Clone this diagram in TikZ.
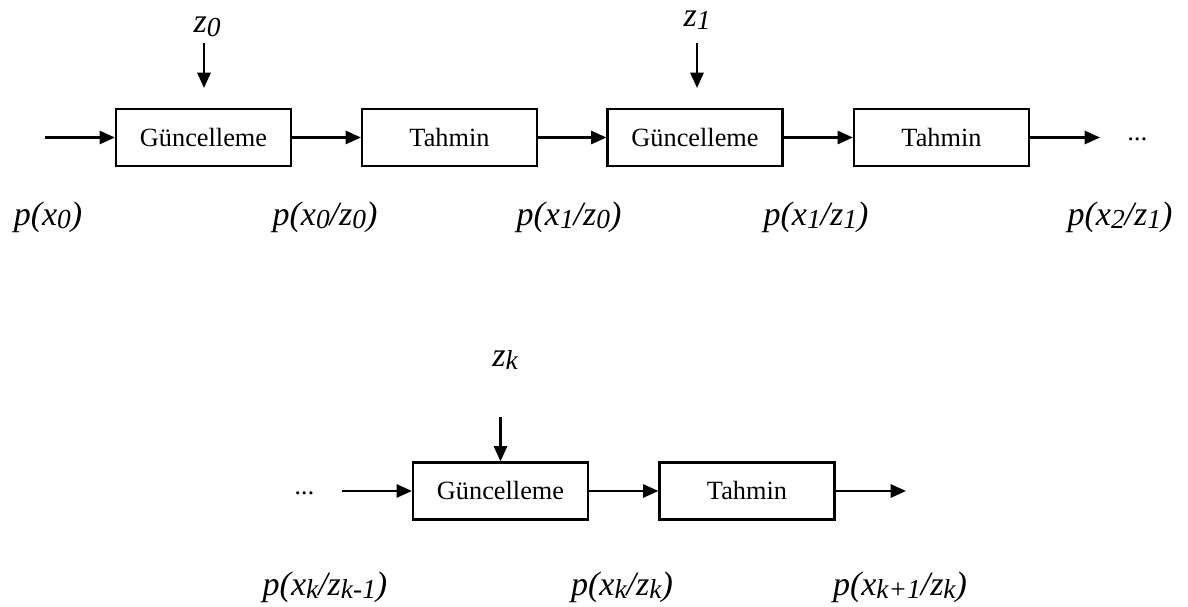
\documentclass[tikz,border=0pt]{standalone}
\usepackage{fontspec}
\setmainfont{Liberation Serif}
\usetikzlibrary{arrows.meta}

% lowered, slightly smaller index used in the density labels
\newcommand\lsub[1]{\raisebox{-0.22ex}{\fontsize{12.5}{13}\selectfont #1}}
\newcommand\lab[1]{\fontsize{15.5}{17}\selectfont\itshape #1}

\begin{document}
\begin{tikzpicture}[x=0.456pt, y=-0.456pt,
  blockbox/.style={draw, line width=1pt, minimum width=79.8pt, minimum height=26pt,
                   inner sep=0pt, font=\fontsize{12}{14}\selectfont},
  flow/.style={line width=1.1pt, -{Triangle[length=7pt, width=6pt]}},
  dens/.style={inner sep=0pt, font=\lab{}},
  obs/.style={inner sep=0pt, font=\lab{}},
  dots/.style={inner sep=0pt, font=\fontsize{12}{14}\selectfont\itshape}]
\useasboundingbox (0,0) rectangle (1188,607);

% ---- first chain ----
\node[blockbox] (g1) at (203.5,137.5) {Güncelleme};
\node[blockbox] (t1) at (449.5,137.5) {Tahmin};
\node[blockbox] (g2) at (695,137.5) {Güncelleme};
\node[blockbox] (t2) at (941.5,137.5) {Tahmin};

\coordinate (in1) at (45,137.5);
\coordinate (out1) at (1100,137.5);
\node[dots] (d1) at (1138,139) {...};

\draw[flow] (in1) -- (g1.west);
\draw[flow] (g1.east) -- (t1.west);
\draw[flow] (t1.east) -- (g2.west);
\draw[flow] (g2.east) -- (t2.west);
\draw[flow] (t2.east) -- (out1);

% measurements
\node[obs] (z0) at (207,27) {z\lsub{0}};
\coordinate (z0a) at (204,43);
\coordinate (z0b) at (204,88);
\draw[flow] (z0a) -- (z0b);
\node[obs] (z1) at (697,20) {z\lsub{1}};
\coordinate (z1a) at (697,43);
\coordinate (z1b) at (697,88);
\draw[flow] (z1a) -- (z1b);

% densities
\node[dens] (p1) at (48,217) {p(x\lsub{0})};
\node[dens] (p2) at (325,217) {p(x\lsub{0}/z\lsub{0})};
\node[dens] (p3) at (569,217) {p(x\lsub{1}/z\lsub{0})};
\node[dens] (p4) at (816,217) {p(x\lsub{1}/z\lsub{1})};
\node[dens] (p5) at (1120,217) {p(x\lsub{2}/z\lsub{1})};

% ---- general step k ----
\node[blockbox] (g3) at (500.5,491) {Güncelleme};
\node[blockbox] (t3) at (747,491) {Tahmin};

\node[dots] (d2) at (305,493) {...};
\coordinate (in2) at (342,491);
\coordinate (out2) at (906,491);

\draw[flow] (in2) -- (g3.west);
\draw[flow] (g3.east) -- (t3.west);
\draw[flow] (t3.east) -- (out2);

\node[obs] (zk) at (505,360) {z\lsub{k}};
\coordinate (zka) at (500.5,417);
\draw[flow] (zka) -- (g3.north);

\node[dens] (q1) at (325,587) {p(x\lsub{k}/z\lsub{k-1})};
\node[dens] (q2) at (622,587) {p(x\lsub{k}/z\lsub{k})};
\node[dens] (q3) at (900,587) {p(x\lsub{k+1}/z\lsub{k})};
\end{tikzpicture}
\end{document}
